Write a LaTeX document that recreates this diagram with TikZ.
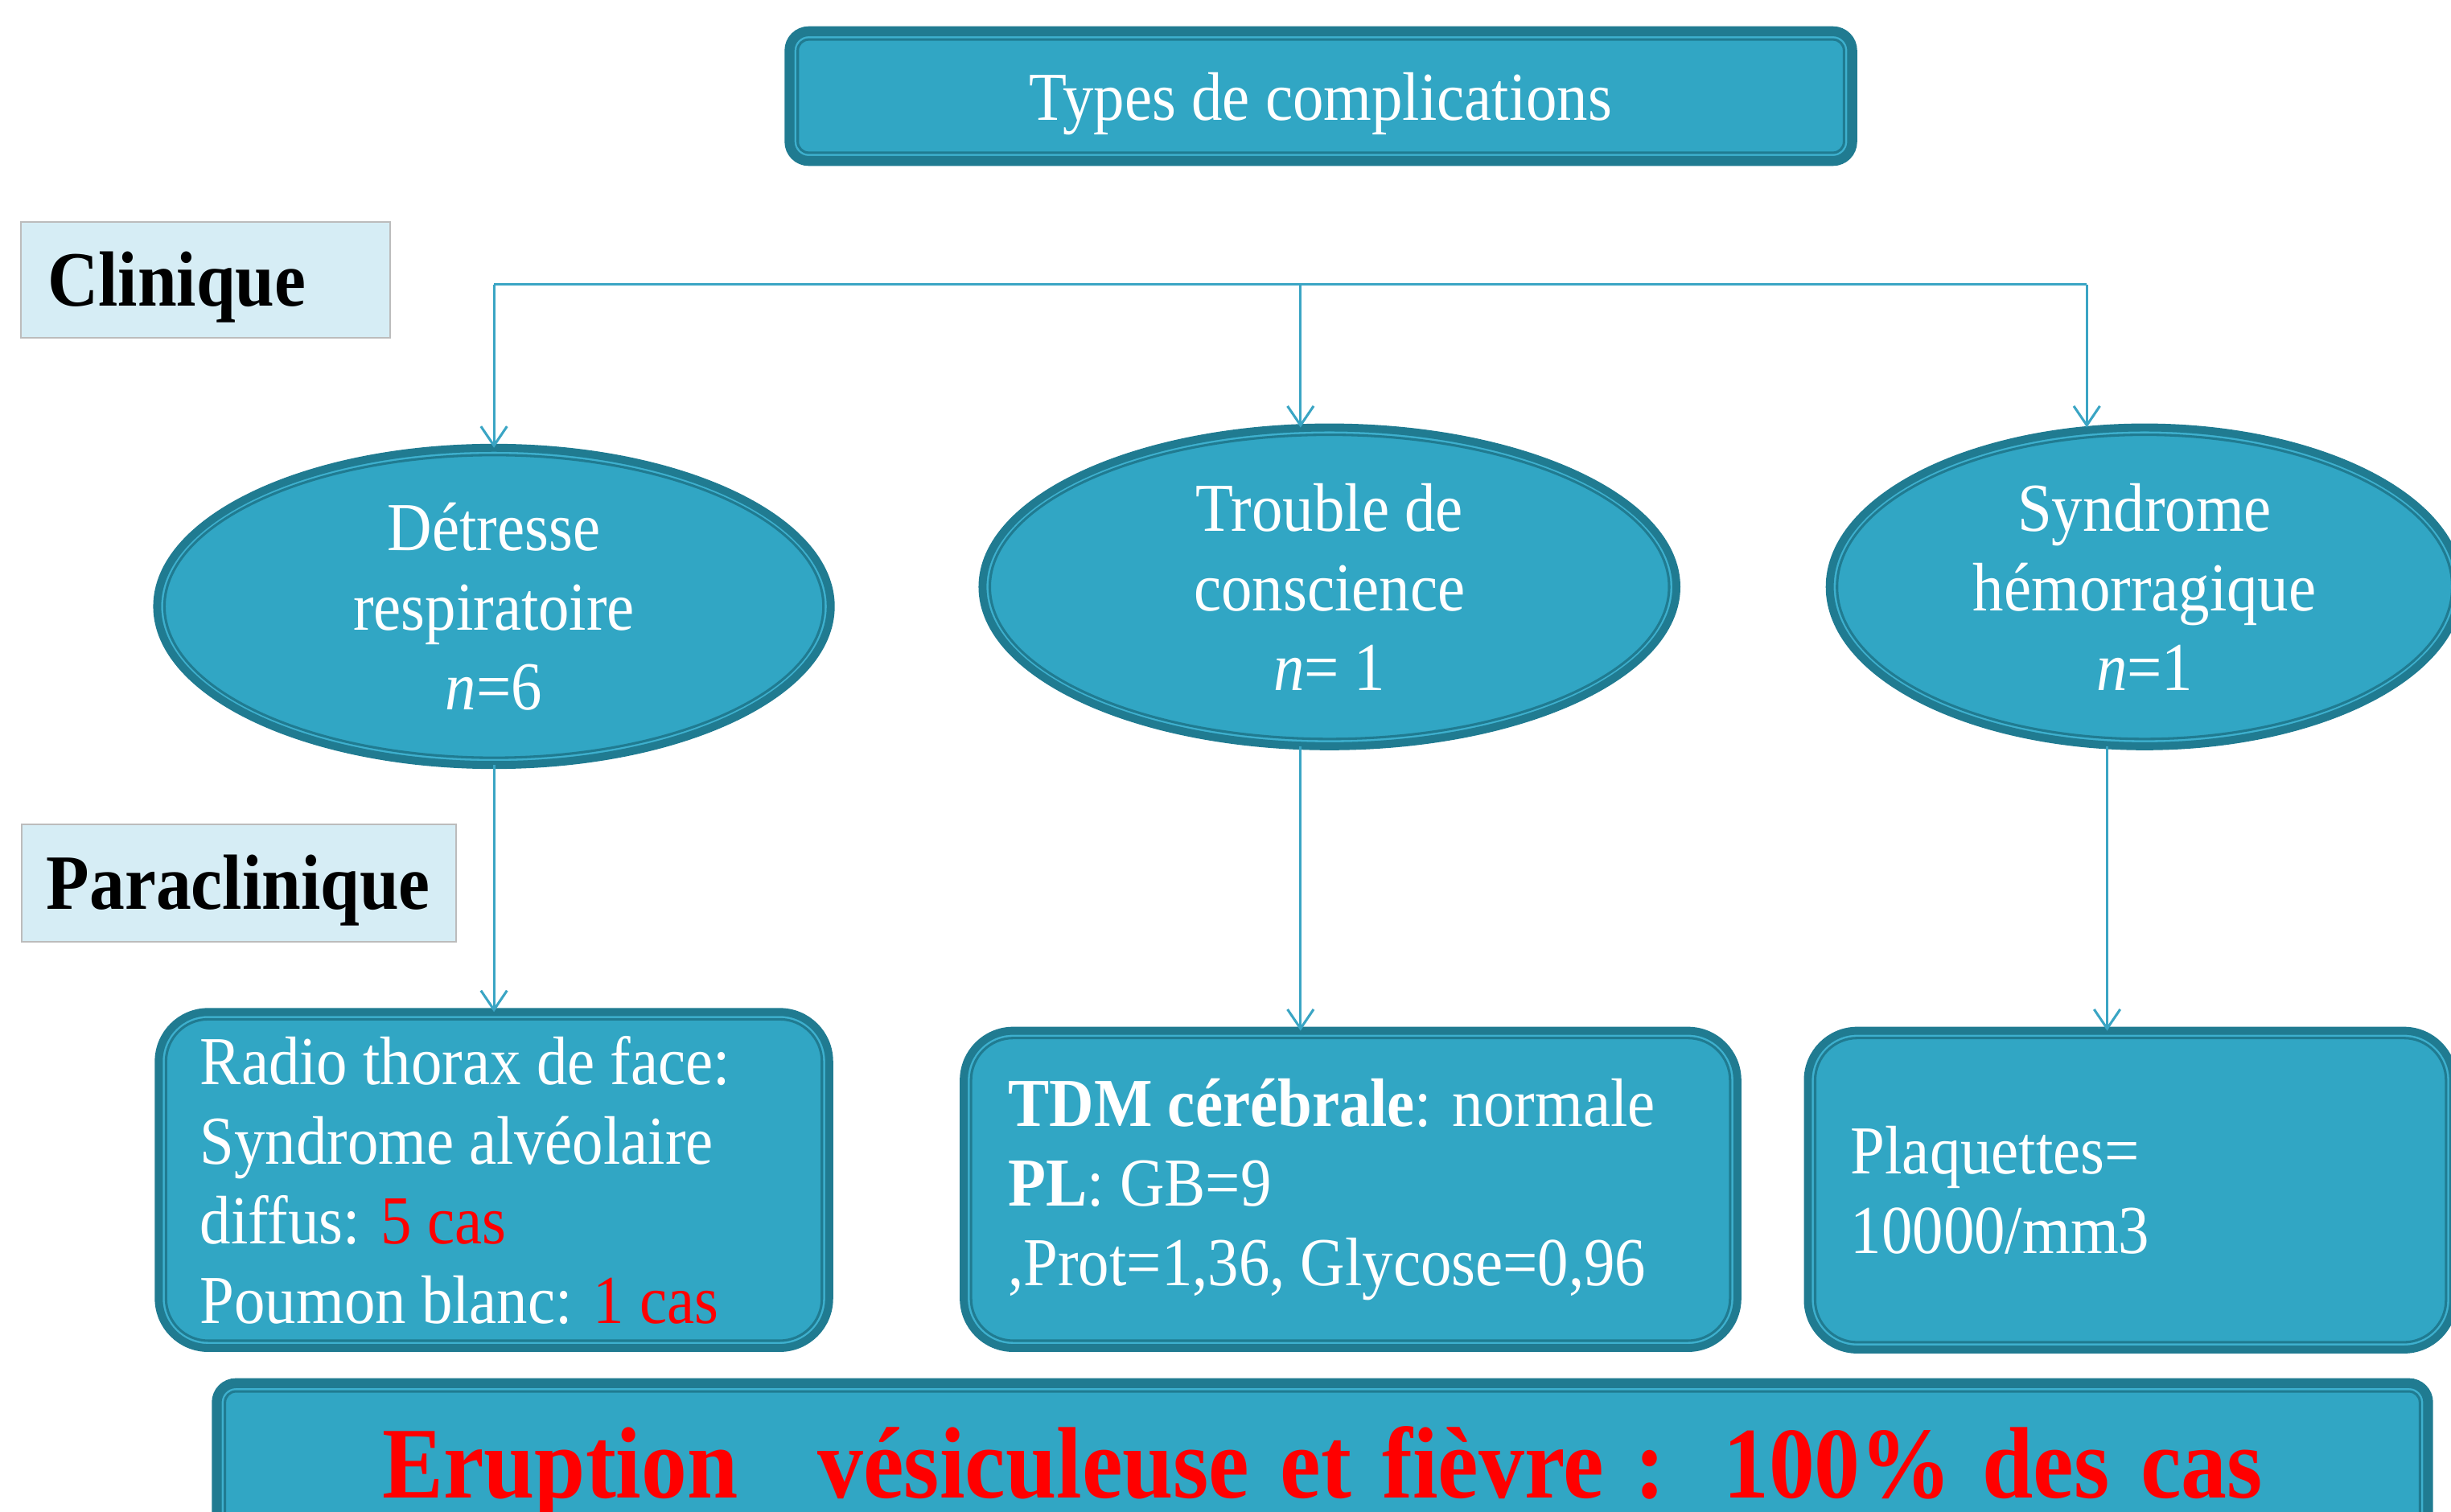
\documentclass[tikz,border=0pt]{standalone}
\usepackage{fontspec}
\setmainfont{Liberation Serif}[FakeStretch=0.9]
\usetikzlibrary{shapes.geometric,arrows.meta,calc}
\definecolor{cfill}{RGB}{49,166,196}
\definecolor{cdark}{RGB}{32,123,145}
\definecolor{clight}{RGB}{62,176,206}
\definecolor{cline}{RGB}{58,165,196}
\definecolor{lblfill}{RGB}{214,237,245}
\definecolor{lbldraw}{RGB}{188,188,188}
\definecolor{cred}{RGB}{255,0,0}
\tikzset{
  txt/.style={font=\fontsize{25}{29}\selectfont, text=white},
  oval/.style={ellipse, fill=cfill, draw=cdark, line width=2.9pt, inner sep=0pt, outer sep=0pt, align=center, txt,
    path picture={
      \draw[clight, line width=0.75pt] let \p1=(path picture bounding box.north east), \p2=(path picture bounding box.center) in
        (\p2) ellipse [x radius=\x1-\x2-1.83pt, y radius=\y1-\y2-1.83pt];
      \draw[cdark, line width=0.9pt] let \p1=(path picture bounding box.north east), \p2=(path picture bounding box.center) in
        (\p2) ellipse [x radius=\x1-\x2-2.65pt, y radius=\y1-\y2-2.65pt];
    }},
  rbox/.style={rectangle, rounded corners=18pt, fill=cfill, draw=cdark, line width=2.9pt, inner ysep=0pt, outer sep=0pt, align=left, txt,
    path picture={
      \draw[clight, line width=0.75pt, rounded corners=16.17pt] ([shift={(1.83pt,1.83pt)}]path picture bounding box.south west) rectangle ([shift={(-1.83pt,-1.83pt)}]path picture bounding box.north east);
      \draw[cdark, line width=0.9pt, rounded corners=15.35pt] ([shift={(2.65pt,2.65pt)}]path picture bounding box.south west) rectangle ([shift={(-2.65pt,-2.65pt)}]path picture bounding box.north east);
    }},
  tbox/.style={rectangle, rounded corners=7pt, fill=cfill, draw=cdark, line width=3.6pt, outer sep=0pt, align=center,
    path picture={
      \draw[clight, line width=0.75pt, rounded corners=4.8pt] ([shift={(2.2pt,2.2pt)}]path picture bounding box.south west) rectangle ([shift={(-2.2pt,-2.2pt)}]path picture bounding box.north east);
      \draw[cdark, line width=0.9pt, rounded corners=4pt] ([shift={(3pt,3pt)}]path picture bounding box.south west) rectangle ([shift={(-3pt,-3pt)}]path picture bounding box.north east);
    }},
  lbl/.style={rectangle, fill=lblfill, draw=lbldraw, line width=0.6pt, font=\bfseries\fontsize{28.5}{34}\selectfont,
    text height=0.8cm, text depth=0.12cm, align=left, inner ysep=0pt},
  conn/.style={draw=cline, line width=0.9pt},
  arr/.style={-{Straight Barb[length=7pt,width=9.5pt]}},
}
\begin{document}
\begin{tikzpicture}[x=0.02cm, y=-0.02cm]
\useasboundingbox (0,0) rectangle (1568,967);
\fill[white] (0,0) rectangle (1568,967);

\node[tbox, minimum width=13.6cm, minimum height=1.66cm, inner ysep=0pt, text height=0.75cm, text depth=0.13cm, txt] (title) at (845,61.5) {Types de complications};

\node[lbl, minimum width=4.72cm, minimum height=1.48cm, text width=4.04cm, inner xsep=0.34cm] (clin) at (131.5,179) {Clinique};
\node[lbl, minimum width=5.56cm, minimum height=1.5cm, text width=4.93cm, inner xsep=0.314cm] (para) at (153,565) {\mbox{Paraclinique}};

\node[oval, minimum width=8.62cm, minimum height=4.06cm] (e1) at (316,388) {Détresse\\respiratoire\\\textit{n}=6};
\node[oval, minimum width=8.88cm, minimum height=4.08cm] (e2) at (850.5,375.5) {Trouble de\\conscience\\\textit{n}= 1};
\node[oval, minimum width=8.06cm, minimum height=4.08cm] (e3) at (1372,375.5) {Syndrome\\hémorragique\\\textit{n}=1};

\node[rbox, minimum height=4.3cm, text width=7.52cm, inner xsep=0.53cm] (b1) at (316,755)
  {\spaceskip=0pt\xspaceskip=0pt Radio thorax de face:\\Syndrome alvéolaire\\diffus: \textcolor{cred}{5 cas}\\Poumon blanc: \textcolor{cred}{1 cas}};
\node[rbox, minimum height=4.06cm, text width=8.76cm, inner xsep=0.57cm] (b2) at (864,761)
  {\spaceskip=0pt\xspaceskip=0pt \textbf{TDM cérébrale}: normale\\\textbf{PL}: GB=9\\,Prot=1,36, Glycose=0,96};
\node[rbox, minimum height=4.08cm, text width=7.16cm, inner xsep=0.55cm] (b3) at (1363,761.5)
  {\spaceskip=0pt\xspaceskip=0pt Plaquettes=\\10000/mm3};

\node[tbox, anchor=north, minimum width=28.3cm, text width=27.7cm, inner xsep=0.3cm, inner ysep=0.47cm,
  text height=1.0cm, text depth=0.3cm, text=cred, font=\bfseries\fontsize{37}{42}\selectfont] (erupt) at (846,885)
  {\spaceskip=0pt\xspaceskip=0pt Eruption\hspace{29pt}vésiculeuse et fièvre :\hspace{21pt}100\% des cas};

\coordinate (j1) at (316,182);
\coordinate (j2) at (832,182);
\coordinate (j3) at (1335,182);
\coordinate (k3) at (1348,480);

\draw[conn] (j1) -- (j3);
\draw[conn,arr] (j1) -- (e1.north);
\draw[conn,arr] (j2) -- (j2 |- e2.north);
\draw[conn,arr] (j3) -- (j3 |- e3.north);
\draw[conn,arr] (e1.south) -- (b1.north);
\draw[conn,arr] (j2 |- e2.south) -- (j2 |- b2.north);
\draw[conn,arr] (k3 |- e3.south) -- (k3 |- b3.north);
\end{tikzpicture}
\end{document}
